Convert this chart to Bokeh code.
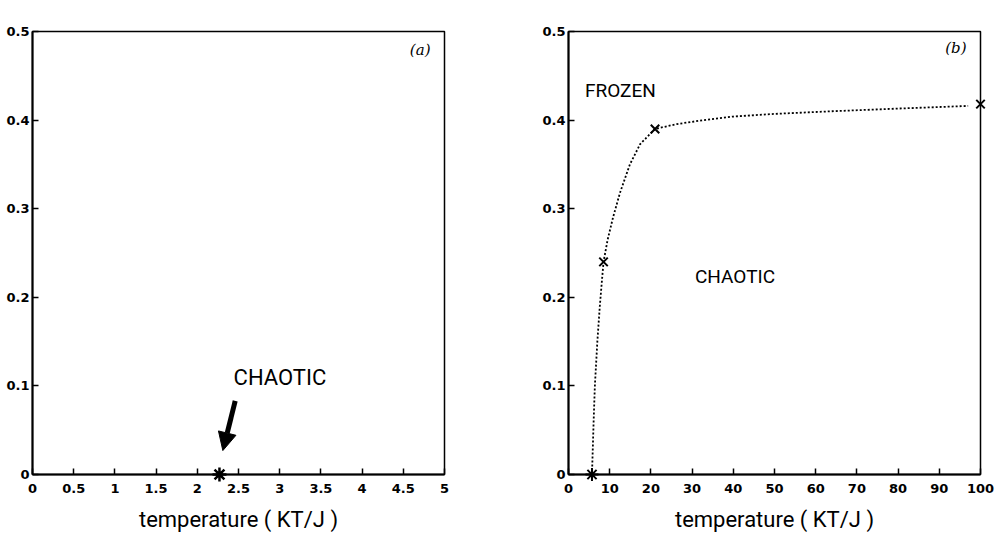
from bokeh.plotting import figure
from bokeh.layouts import row
from bokeh.models import (FixedTicker, NumeralTickFormatter, Label, Arrow,
                          NormalHead, Range1d)
from bokeh.embed import file_html
from bokeh.resources import INLINE

# ---------------- data ----------------
# panel (a)
a_x_ticks = [0, 0.5, 1, 1.5, 2, 2.5, 3, 3.5, 4, 4.5, 5]
a_y_ticks = [0, 0.1, 0.2, 0.3, 0.4, 0.5]
a_tc_T = [2.269]
a_tc_h = [0.0]

# panel (b)
b_x_ticks = [0, 10, 20, 30, 40, 50, 60, 70, 80, 90, 100]
b_y_ticks = [0, 0.1, 0.2, 0.3, 0.4, 0.5]
b_tc_T = [5.7]
b_tc_h = [0.0]
b_pts_T = [8.5, 21.0, 100.0]
b_pts_h = [0.24, 0.39, 0.418]
curve_T = [5.7, 5.9, 6.1, 6.4, 7.0, 7.6, 8.1, 8.5, 9.5, 10.8, 12.5, 14.9,
           17.4, 21.0, 26.3, 32.8, 40.0, 50.0, 64.0, 80.0, 97.0]
curve_h = [0.0, 0.03, 0.06, 0.10, 0.15, 0.19, 0.218, 0.24, 0.265, 0.29, 0.318,
           0.350, 0.373, 0.390, 0.3955, 0.400, 0.404, 0.407, 0.410, 0.413, 0.416]

TICK_FONT = "DejaVu Sans"
TXT_FONT = "Roboto"


def style(p, xticks, yticks):
    p.xgrid.visible = False
    p.ygrid.visible = False
    p.outline_line_color = "black"
    p.outline_line_width = 1.5
    p.outline_line_alpha = 1.0
    for ax in (p.xaxis[0], p.yaxis[0]):
        ax.axis_line_color = "black"
        ax.axis_line_width = 2
        ax.major_tick_in = 6
        ax.major_tick_out = 0
        ax.major_tick_line_color = "black"
        ax.major_tick_line_width = 1.5
        ax.minor_tick_line_color = None
        ax.major_label_text_font = TICK_FONT
        ax.major_label_text_font_style = "bold"
        ax.major_label_text_font_size = "13px"
        ax.major_label_text_color = "black"
        ax.formatter = NumeralTickFormatter(format="0.[0]")
    p.xaxis[0].ticker = FixedTicker(ticks=xticks)
    p.yaxis[0].ticker = FixedTicker(ticks=yticks)
    p.xaxis[0].major_label_standoff = 9
    p.yaxis[0].major_label_standoff = 3
    p.xaxis[0].axis_label = "temperature ( KT/J )"
    p.xaxis[0].axis_label_text_font = TXT_FONT
    p.xaxis[0].axis_label_text_font_style = "normal"
    p.xaxis[0].axis_label_text_font_size = "22px"
    p.xaxis[0].axis_label_text_color = "black"
    p.xaxis[0].axis_label_standoff = 11


# ---------------- panel (a) ----------------
pa = figure(width=508, height=536, output_backend="svg", toolbar_location=None,
            x_range=Range1d(0, 5), y_range=Range1d(0, 0.5),
            min_border_left=32, min_border_right=64,
            min_border_top=28, min_border_bottom=62)
style(pa, a_x_ticks, a_y_ticks)
ra = pa.scatter(a_tc_T, a_tc_h, marker="asterisk", size=14, line_width=2.5,
                line_color="black")
ra.level = "overlay"
pa.add_layout(Arrow(end=NormalHead(size=18, fill_color="black",
                                   line_color="black"),
                    x_start=2.46, y_start=0.083, x_end=2.31, y_end=0.027,
                    line_width=5, line_color="black"))
pa.add_layout(Label(x=2.44, y=0.109, text="CHAOTIC", text_font=TXT_FONT,
                    text_font_size="22px", text_baseline="middle",
                    text_color="black"))
pa.add_layout(Label(x=4.83, y=0.479, text="(a)", text_font="DejaVu Serif",
                    text_font_style="italic", text_font_size="15px",
                    text_align="right", text_baseline="middle",
                    text_color="black"))
pa.add_layout(Label(x=0, y=0.5, x_offset=3, y_offset=4, text="Hk(T)",
                    text_font=TXT_FONT, text_font_size="14px",
                    text_baseline="bottom", text_color="black"))

# ---------------- panel (b) ----------------
pb = figure(width=492, height=536, output_backend="svg", toolbar_location=None,
            x_range=Range1d(0, 100), y_range=Range1d(0, 0.5),
            min_border_left=60, min_border_right=20,
            min_border_top=31, min_border_bottom=62)
style(pb, b_x_ticks, b_y_ticks)
pb.line(curve_T, curve_h, line_color="black", line_width=1.8,
        line_dash="2 2")
rb1 = pb.scatter(b_pts_T, b_pts_h, marker="x", size=12, line_width=2,
                 line_color="black")
rb1.level = "overlay"
rb2 = pb.scatter(b_tc_T, b_tc_h, marker="asterisk", size=13, line_width=2,
                 line_color="black")
rb2.level = "overlay"
pb.add_layout(Label(x=4.0, y=0.433, text="FROZEN", text_font=TXT_FONT,
                    text_font_size="19px", text_baseline="middle",
                    text_color="black"))
pb.add_layout(Label(x=30.7, y=0.2235, text="CHAOTIC", text_font=TXT_FONT,
                    text_font_size="19px", text_baseline="middle",
                    text_color="black"))
pb.add_layout(Label(x=96.6, y=0.481, text="(b)", text_font="DejaVu Serif",
                    text_font_style="italic", text_font_size="15px",
                    text_align="right", text_baseline="middle",
                    text_color="black"))
pb.add_layout(Label(x=0, y=0.5, x_offset=3, y_offset=4, text="hk( T )",
                    text_font=TXT_FONT, text_font_size="14px",
                    text_baseline="bottom", text_color="black"))

layout = row(pa, pb)
open("out.html", "w").write(file_html(layout, INLINE))
